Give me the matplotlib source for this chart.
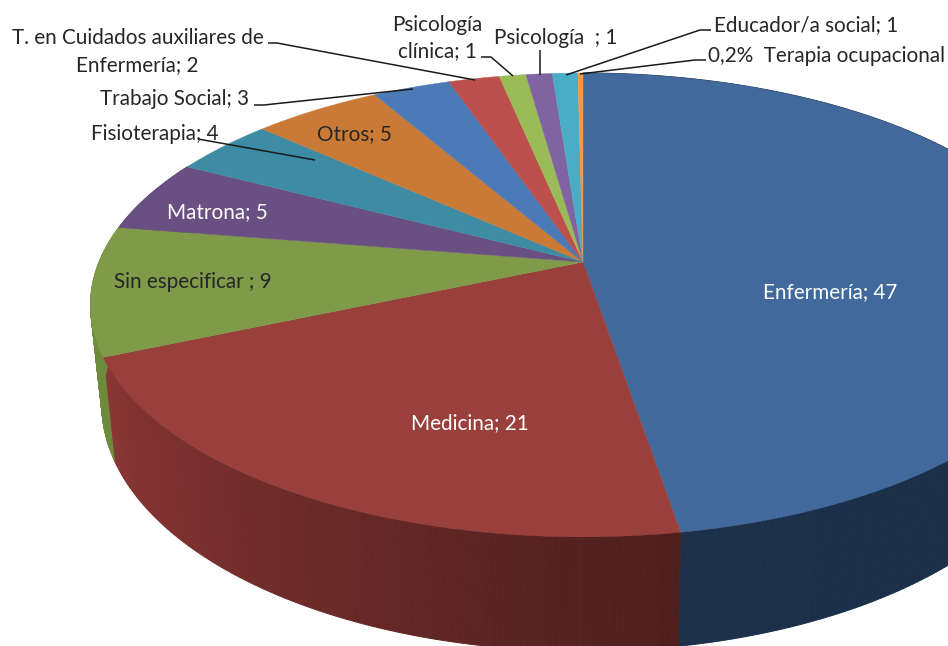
import numpy as np
import matplotlib
matplotlib.use("Agg")
import matplotlib.pyplot as plt
from matplotlib.patches import Polygon

plt.rcParams['font.family'] = ['Lato', 'DejaVu Sans']

names = ["Enfermería", "Medicina", "Sin especificar", "Matrona", "Fisioterapia", "Otros",
         "Trabajo Social", "T. en Cuidados auxiliares de Enfermería", "Psicología clínica",
         "Psicología", "Educador/a social", "Terapia ocupacional"]
values = [47.4, 21.2, 9.0, 5.1, 4.0, 5.05, 3.05, 2.0, 1.05, 1.03, 1.0, 0.2]
top_colors = ["#41699b", "#993f3c", "#7f9a48", "#6a4f82", "#3d8ca4", "#c97a37",
              "#4b7ab7", "#bd4f4c", "#9bbb59", "#8064a2", "#4bacc6", "#f79646"]
wall_left = ["#1c304a", "#8a3634", "#6e8a3d", "#5c456f", "#35788c", "#ab682f",
             "#3f6699", "#a04341", "#84a04b", "#6d5589", "#3f92a8", "#d27f3b"]
wall_right = ["#182a42", "#4d1f1d", "#6e8a3d", "#5c456f", "#35788c", "#ab682f",
              "#3f6699", "#a04341", "#84a04b", "#6d5589", "#3f92a8", "#d27f3b"]

W, H = 948, 646
fig = plt.figure(figsize=(W / 100, H / 100), dpi=100)
ax = fig.add_axes([0, 0, 1, 1])
ax.set_xlim(0, W)
ax.set_ylim(H, 0)
ax.axis("off")

CX, CY, R = 583.0, 262.0, 484.0
PA, PC = -175.5, 0.185


def rim(theta):
    """Perspective projection of the unit circle (theta clockwise from 12 o'clock)."""
    s, c = np.sin(theta), np.cos(theta)
    d = 1 + PC * c
    return CX + R * s / d, (PA * c + CY) / d


def lower(x, y):
    return CX + (x - CX) * 0.977, CY + (y - CY) * 1.063 + 97


edges = np.cumsum([0] + values) / sum(values) * 2 * np.pi

# side wall: only the front-facing part of the rim, drawn as short shaded strips
for i in range(len(values)):
    a0, a1 = edges[i], edges[i + 1]
    if a1 < np.pi / 2 or a0 > 1.62 * np.pi:
        continue
    steps = max(2, int((a1 - a0) / 0.012))
    ts = np.linspace(a0, a1, steps + 1)
    cl = np.array(matplotlib.colors.to_rgb(wall_left[i]))
    cr = np.array(matplotlib.colors.to_rgb(wall_right[i]))
    for j in range(steps):
        t0, t1 = ts[j], ts[j + 1]
        f = j / steps
        col = cr * (1 - f) + cl * f
        x0, y0 = rim(t0)
        x1, y1 = rim(t1)
        x2, y2 = lower(x1, y1)
        x3, y3 = lower(x0, y0)
        ax.add_patch(Polygon([(x0, y0), (x1, y1), (x2, y2), (x3, y3)], closed=True,
                             fc=col, ec=col, lw=0.7, zorder=2 + i * 0.01))

# top face
for i in range(len(values)):
    ts = np.linspace(edges[i], edges[i + 1], 160)
    xs, ys = rim(ts)
    pts = np.column_stack([np.r_[CX, xs], np.r_[CY, ys]])
    ax.add_patch(Polygon(pts, closed=True, fc=top_colors[i], ec=top_colors[i], lw=0.3, zorder=3))

FS = 14.85
DARK = "#262626"
labels = [
    (830, 292.5, "Enfermería; 47", "white", "center"),
    (469.5, 423, "Medicina; 21", "white", "center"),
    (192.5, 282.5, "Sin especificar ; 9", DARK, "center"),
    (217.5, 212, "Matrona; 5", "white", "center"),
    (354.5, 134.5, "Otros; 5", DARK, "center"),
    (155, 133.5, "Fisioterapia; 4", DARK, "center"),
    (174.5, 99, "Trabajo Social; 3", DARK, "center"),
    (137.5, 38, "T. en Cuidados auxiliares de", DARK, "center"),
    (137.5, 65, "Enfermería; 2", DARK, "center"),
    (437, 25, "Psicología", DARK, "center"),
    (437, 51, "clínica; 1", DARK, "center"),
    (556, 37.5, "Psicología  ; 1", DARK, "center"),
    (806, 25, "Educador/a social; 1", DARK, "center"),
    (827, 55.5, "0,2%  Terapia ocupacional", DARK, "center"),
]
for x, y, s, c, ha in labels:
    ax.text(x, y, s, color=c, fontsize=FS, ha=ha, va="center", zorder=6)

leaders = [
    ([198, 315], [139, 160]),
    ([254, 264, 413], [105, 105, 89]),
    ([268, 277, 475], [43, 43, 80]),
    ([481, 491, 513], [57, 57, 76]),
    ([540, 540], [50, 75]),
    ([711, 700, 566], [30, 30, 75]),
    ([706, 695, 580], [60, 60, 74]),
]
for xs, ys in leaders:
    ax.plot(xs, ys, color="#1a1a1a", lw=1.1, zorder=5, solid_capstyle="butt")

fig.savefig("out.png", dpi=100, facecolor="white")
